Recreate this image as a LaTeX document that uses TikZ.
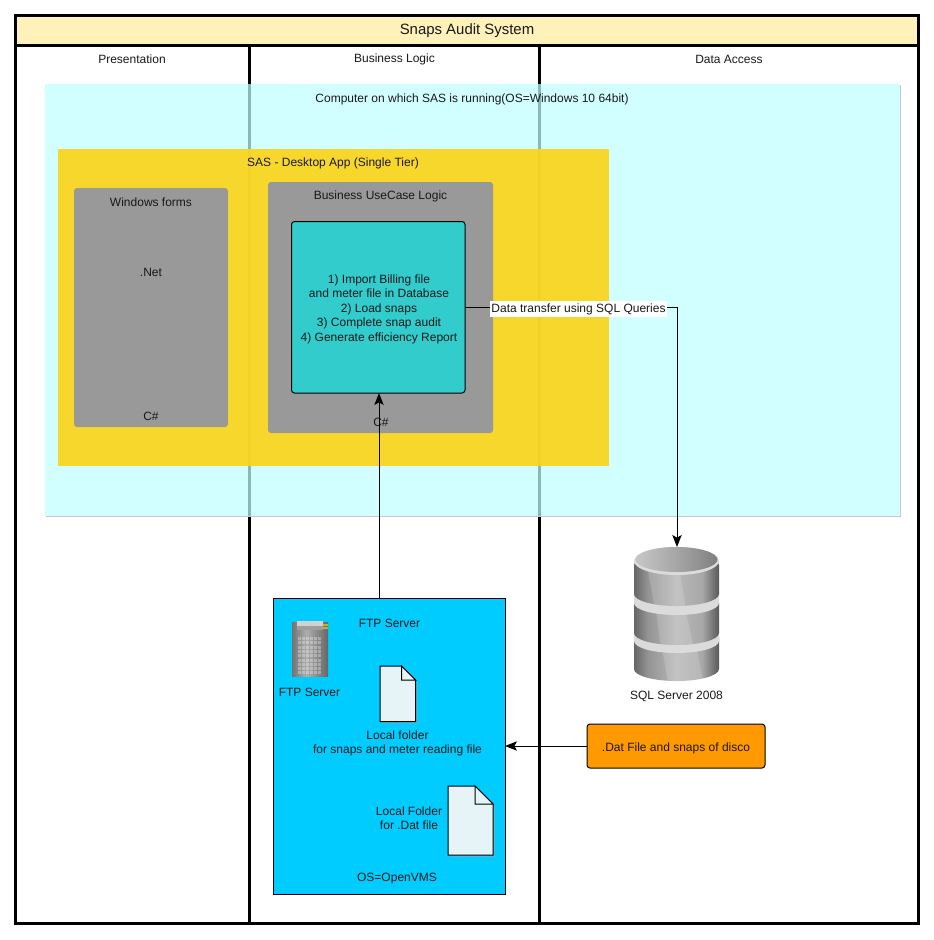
\documentclass[tikz,border=0pt]{standalone}
\usepackage{fontspec}
\setmainfont{Liberation Sans}
\usetikzlibrary{arrows.meta,shadows,calc}
\definecolor{hdr}{HTML}{FFF1BA}
\definecolor{skyb}{HTML}{C0FFFF}
\definecolor{gold}{HTML}{FAD41C}
\definecolor{grayb}{HTML}{999999}
\definecolor{tealb}{HTML}{33CCCC}
\definecolor{ftpb}{HTML}{00CCFF}
\definecolor{orangeb}{HTML}{FF9900}
\definecolor{paper}{HTML}{E6F4F8}
\pgfdeclarehorizontalshading{dbbody}{100bp}{color(0bp)=(black!60); color(25bp)=(black!60); color(33bp)=(black!42); color(50bp)=(black!28); color(65bp)=(black!34); color(75bp)=(black!65); color(100bp)=(black!65)}
\pgfdeclarehorizontalshading{dbtop}{100bp}{color(0bp)=(black!22); color(25bp)=(black!22); color(50bp)=(black!35); color(75bp)=(black!50); color(100bp)=(black!50)}
\pgfdeclarehorizontalshading{srv}{100bp}{color(0bp)=(black!60); color(25bp)=(black!55); color(45bp)=(black!32); color(75bp)=(black!60); color(100bp)=(black!60)}
\tikzset{
  lane/.style={draw=black,line width=2.25pt},
  lbl/.style={font=\fontsize{9}{10.9}\selectfont,align=center,inner sep=0pt,text=black!90,yshift=-1.5pt},
  region/.style={rectangle,inner sep=0pt,outer sep=0pt,anchor=north west},
  conn/.style={draw=black,line width=0.75pt,-{Stealth[length=9pt,width=7pt,inset=2pt]}},
  sheet/.style={draw=black,line width=0.75pt,fill=paper},
  sheetshadow/.style={fill=black!35,draw=none,fill opacity=.45},
}
\newcommand{\docsheet}[6]{% name x1 y1 x2 y2 fold
  \fill[sheetshadow] (#2+2,#3+2) -- (#4-#6+2,#3+2) -- (#4+2,#3+#6+2) -- (#4+2,#5+2) -- (#2+2,#5+2) -- cycle;
  \draw[sheet] (#2,#3) -- (#4-#6,#3) -- (#4,#3+#6) -- (#4,#5) -- (#2,#5) -- cycle;
  \draw[sheet] (#4-#6,#3) -- (#4-#6,#3+#6) -- (#4,#3+#6) -- cycle;
  \coordinate (#1) at (#2,#3);
}
% database pieces: top y, side-bottom y
\newcommand{\dbtier}[6]{%
  \path[shading=dbbody] (634,#1) -- (634,#2) arc[start angle=180,end angle=0,x radius=42.5,y radius=12] -- (719,#1) arc[start angle=0,end angle=-180,x radius=42.5,y radius=12] -- cycle;
  \begin{scope}
    \clip (634,#1) -- (634,#2) arc[start angle=180,end angle=0,x radius=42.5,y radius=12] -- (719,#1) -- cycle;
    \fill[white,fill opacity=.16] (#3,#1) -- (#4,#1+45) -- (#5,#1+45) -- (#6,#1) -- cycle;
    \fill[black,fill opacity=.12] (634,#2+6) arc[start angle=180,end angle=0,x radius=42.5,y radius=12] -- (719,#2+20) -- (634,#2+20) -- cycle;
  \end{scope}
}
\newcommand{\dbband}[2]{%
  \path[fill=black!14] (634,#1) -- (634,#2) arc[start angle=180,end angle=0,x radius=42.5,y radius=12] -- (719,#1) arc[start angle=0,end angle=-180,x radius=42.5,y radius=12] -- cycle;
}
\begin{document}
\begin{tikzpicture}[x=0.75pt,y=-0.75pt]
\useasboundingbox (0,0) rectangle (934,940);
\fill[white] (0,0) rectangle (934,940);

% swimlane
\node[region,lane,fill=white,minimum width=903*.75pt,minimum height=908*.75pt] (pool) at (15.5,15.5) {};
\node[region,lane,fill=hdr,minimum width=903*.75pt,minimum height=30*.75pt] (head) at (15.5,15.5) {};
\coordinate (d1t) at (249,45); \coordinate (d1b) at (249,923);
\coordinate (d2t) at (539.5,45); \coordinate (d2b) at (539.5,923);
\draw[lane] (d1t) -- (d1b);
\draw[lane] (d2t) -- (d2b);
\node[lbl,font=\fontsize{11.2}{12}\selectfont] (title) at (467,29) {Snaps Audit System};
\node[lbl] (l1) at (132,57) {Presentation};
\node[lbl] (l2) at (394.5,57) {Business Logic};
\node[lbl] (l3) at (729,57) {Data Access};

% computer
\draw[black!22,line width=.75pt] (900.5,85) -- (900.5,516.5) -- (46,516.5);
\node[region,fill=skyb,fill opacity=.72,minimum width=855*.75pt,minimum height=432*.75pt] (comp) at (45,84) {};
\node[lbl] (compl) at (472,97) {Computer on which SAS is running(OS=Windows 10 64bit)};

% SAS app
\node[region,fill=gold,fill opacity=.93,minimum width=551*.75pt,minimum height=317*.75pt] (sas) at (58,149) {};
\node[lbl] (sasl) at (333,161) {SAS - Desktop App (Single Tier)};

\node[region,fill=grayb,rounded corners=2.25pt,minimum width=154*.75pt,minimum height=239*.75pt] (win) at (74,188) {};
\node[lbl] (winl) at (151,200) {Windows forms};
\node[lbl] (net) at (151,270) {.Net};
\node[lbl] (cs1) at (151,414) {C\#};

\node[region,fill=grayb,rounded corners=2.25pt,minimum width=225*.75pt,minimum height=251*.75pt] (biz) at (268,182) {};
\node[lbl] (bizl) at (380.5,194) {Business UseCase Logic};
\node[lbl] (cs2) at (381,420) {C\#};

\node[region,fill=tealb,draw=black,line width=.75pt,rounded corners=2.25pt,minimum width=173.5*.75pt,minimum height=171.5*.75pt] (uc) at (291.5,221.5) {};
\node[lbl] (ucl) at (379,307) {1) Import Billing file\\and meter file in Database\\2) Load snaps\\3) Complete snap audit\\4) Generate efficiency Report};

% FTP box
\node[region,fill=ftpb,draw=black,line width=.75pt,minimum width=231.5*.75pt,minimum height=295.5*.75pt] (ftp) at (273.5,598.5) {};
\node[lbl] (ftpl) at (389.5,621) {FTP Server};

% server icon
\path[shading=srv] (292,622) -- (292,676) -- (328,676) -- (328,622) -- cycle;
\fill[black!18] (297,621) rectangle (323,626);
\fill[black!38] (297,626) rectangle (323,630);
\fill[yellow!70!black] (323,624) rectangle (328,626);
\fill[yellow!70!black] (323,627) rectangle (328,629);
\foreach \r in {0,...,8}{\foreach \c in {0,...,5}{
  \fill[white,fill opacity=.3] (298+\c*4,637+\r*4.3) rectangle +(2.8,3);
}}
\node[lbl] (srvl) at (309.5,690) {FTP Server};

% files
\docsheet{f1}{380}{666}{415.5}{721.5}{14}
\node[lbl] (f1l) at (397.5,741.5) {Local folder\\for snaps and meter reading file};
\docsheet{f2}{448}{786}{493}{855}{18}
\node[lbl] (f2l) at (409,816) {Local Folder\\for .Dat file};
\node[lbl] (os) at (397,877) {OS=OpenVMS};

% database
\dbtier{637}{669}{660}{668}{703}{695}
\dbband{630}{641}
\dbtier{603}{633}{655}{661}{694}{684}
\dbband{592}{603}
\dbtier{565}{594}{647}{655}{686}{679}
\fill[black!14] (676.5,561) ellipse[x radius=42.5,y radius=14];
\path[shading=dbtop] (676.5,559.5) ellipse[x radius=41,y radius=12.5];
\node[lbl] (dbl) at (676.5,694) {SQL Server 2008};
\node[inner sep=0pt,outer sep=0pt,minimum size=0pt] (db) at (677,547) {};

% orange
\node[region,fill=orangeb,draw=black,line width=.75pt,rounded corners=2.25pt,minimum width=178*.75pt,minimum height=44*.75pt] (dat) at (587,724) {};
\node[lbl] (datl) at (676,746) {.Dat File and snaps of disco};

% connectors
\coordinate (ucr) at (uc.east);
\draw[conn] (ucr) -- (ucr -| db) -- (db);
\node[lbl,fill=white,inner xsep=1pt,inner ysep=1.5pt] (xfer) at (578.5,307) {Data transfer using SQL Queries};
\coordinate (ftpt) at (379,598.5);
\coordinate (ucb) at (379,393);
\draw[conn] (ftpt) -- (ucb);
\draw[conn] (dat.west) -- (dat.west -| ftp.east);
\end{tikzpicture}
\end{document}
